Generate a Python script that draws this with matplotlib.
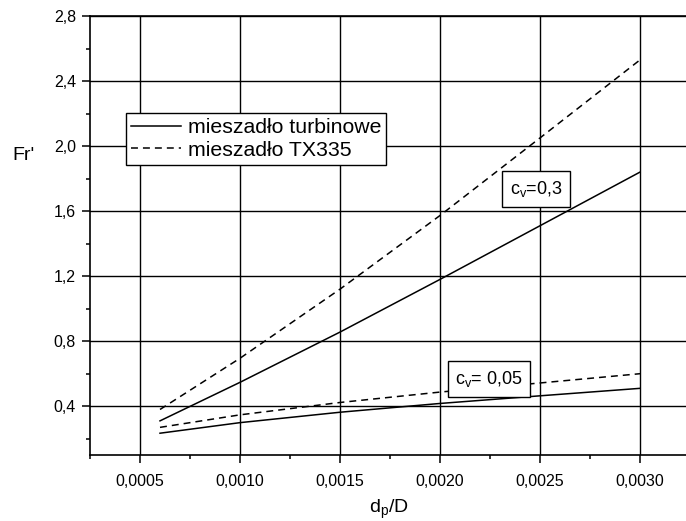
import matplotlib
matplotlib.use("Agg")
import matplotlib.pyplot as plt
from matplotlib.ticker import FixedLocator, FuncFormatter

plt.rcParams['font.family'] = ['Liberation Sans', 'DejaVu Sans']
plt.rcParams['mathtext.fontset'] = 'custom'
plt.rcParams['mathtext.rm'] = 'Liberation Sans'
plt.rcParams['mathtext.it'] = 'Liberation Sans'
plt.rcParams['lines.scale_dashes'] = False

# data
dp_D = [0.0006, 0.0010, 0.0015, 0.0020, 0.0025, 0.0030]
turb_cv03 = [0.31, 0.547, 0.856, 1.18, 1.51, 1.84]
tx335_cv03 = [0.38, 0.695, 1.12, 1.573, 2.05, 2.53]
turb_cv005 = [0.234, 0.299, 0.363, 0.417, 0.464, 0.51]
tx335_cv005 = [0.27, 0.347, 0.423, 0.487, 0.543, 0.60]

xticks = [0.0005, 0.0010, 0.0015, 0.0020, 0.0025, 0.0030]
yticks = [0.4, 0.8, 1.2, 1.6, 2.0, 2.4, 2.8]
legend_labels = ["mieszadło turbinowe", "mieszadło TX335"]

W, H = 686, 521
fig = plt.figure(figsize=(W / 100, H / 100), dpi=100)
ax = fig.add_axes([90 / W, (H - 455) / H, 600 / W, 439 / H])
ax.set_xlim(0.00025, 0.00325)
ax.set_ylim(0.1, 2.8)

dash = (0, (5.0, 3.6))
l1, = ax.plot(dp_D, turb_cv03, color='black', lw=1.1, label=legend_labels[0])
l2, = ax.plot(dp_D, tx335_cv03, color='black', lw=1.1, linestyle=dash, label=legend_labels[1])
ax.plot(dp_D, turb_cv005, color='black', lw=1.1)
ax.plot(dp_D, tx335_cv005, color='black', lw=1.1, linestyle=dash)

ax.xaxis.set_major_locator(FixedLocator(xticks))
ax.xaxis.set_minor_locator(FixedLocator([0.00025 + 0.0005 * i for i in range(7)]))
ax.yaxis.set_major_locator(FixedLocator(yticks))
ax.yaxis.set_minor_locator(FixedLocator([0.2 + 0.4 * i for i in range(7)]))
ax.xaxis.set_major_formatter(FuncFormatter(lambda v, p: f"{v:.4f}".replace('.', ',')))
ax.yaxis.set_major_formatter(FuncFormatter(lambda v, p: f"{v:.1f}".replace('.', ',')))

ax.tick_params(which='major', direction='out', length=6, width=1.1, labelsize=11.5, pad=4)
ax.tick_params(which='minor', direction='out', length=3, width=1.1)
ax.tick_params(axis='x', which='major', pad=8)

ax.grid(True, which='major', color='black', lw=1.0)
ax.set_axisbelow(True)
for s in ax.spines.values():
    s.set_linewidth(1.2)

fig.text(24 / W, 1 - 156 / H, "Fr'", fontsize=14, ha='center', va='center')
fig.text(389 / W, 1 - 509 / H, r"d$_\mathrm{p}$/D", fontsize=14, ha='center', va='center')

bbox = dict(boxstyle='square,pad=0.42', fc='white', ec='black', lw=1.0)
ax.text(0.00248, 1.736, r"c$_\mathrm{v}$=0,3", fontsize=13, ha='center', va='center', bbox=bbox, zorder=5)
ax.text(0.002245, 0.567, r"c$_\mathrm{v}$= 0,05", fontsize=13, ha='center', va='center', bbox=bbox, zorder=5)

leg = ax.legend(handles=[l1, l2], loc='upper left', bbox_to_anchor=(126 / W, 1 - 113 / H),
                bbox_transform=fig.transFigure, borderaxespad=0, fontsize=15.3,
                frameon=True, fancybox=False, shadow=False, framealpha=1,
                borderpad=0.25, labelspacing=0.16, handletextpad=0.3, handlelength=2.35)
leg.get_frame().set_edgecolor('black')
leg.get_frame().set_linewidth(1.0)
leg.set_zorder(6)

fig.savefig("out.png", dpi=100)
